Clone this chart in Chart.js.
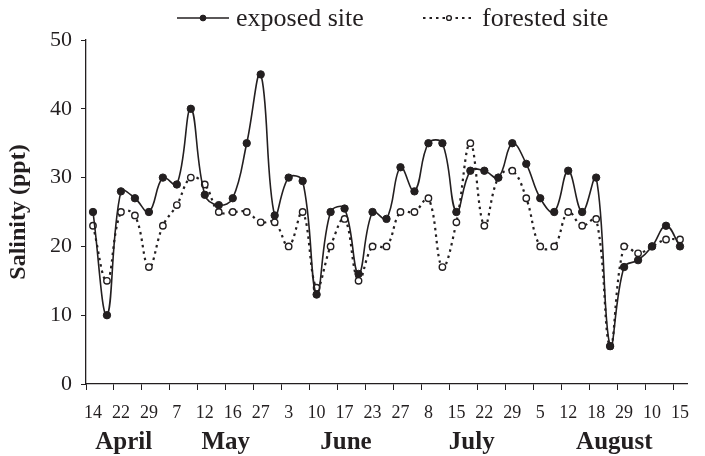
<!DOCTYPE html>
<html>
<head>
<meta charset="utf-8">
<script src="https://cdn.jsdelivr.net/npm/chart.js@4.4.1/dist/chart.umd.min.js"></script>
<style>
  html, body { margin: 0; padding: 0; background: #fff; }
</style>
</head>
<body>
<canvas id="salinity-chart" width="705" height="456"></canvas>
<script>
// Define the data
var dayTicks = ["14", "22", "29", "7", "12", "16", "27", "3", "10", "17", "23",
                "27", "8", "15", "22", "29", "5", "12", "18", "29", "10", "15"]; // every other sample
var monthNames = ["April", "May", "June", "July", "August"];
var monthCenters = [2.2, 9.5, 18.1, 27.1, 37.3]; // where the month name sits, in sample units

var exposedSite = [25, 10, 28, 27, 25, 30, 29, 40, 27.5, 26,
                   27, 35, 45, 24.5, 30, 29.5, 13, 25, 25.5, 16,
                   25, 24, 31.5, 28, 35, 35, 25, 31, 31, 30,
                   35, 32, 27, 25, 31, 25, 30, 5.5, 17, 18,
                   20, 23, 20];
var forestedSite = [23, 15, 25, 24.5, 17, 23, 26, 30, 29, 25,
                    25, 25, 23.5, 23.5, 20, 25, 14, 20, 24, 15,
                    20, 20, 25, 25, 27, 17, 23.5, 35, 23, 30,
                    31, 27, 20, 20, 25, 23, 24, 5.5, 20, 19,
                    20, 21, 21];
// End Defining data

var labels = exposedSite.map(function (v, i) { return i % 2 ? "" : dayTicks[i / 2]; });

var ink = "#231f20";
var serif = "'Liberation Serif', 'Times New Roman', serif";

// month names under the day ticks
var monthPlugin = {
  id: "months",
  afterDraw: function (chart) {
    var ctx = chart.ctx, x = chart.scales.x;
    ctx.save();
    ctx.fillStyle = ink;
    ctx.font = "bold 25px " + serif;
    ctx.textAlign = "center";
    ctx.textBaseline = "alphabetic";
    monthNames.forEach(function (m, i) {
      ctx.fillText(m, x.getPixelForValue(monthCenters[i]), 449);
    });
    ctx.restore();
  }
};

// legend with a line sample and marker, like the original
var legendX = [177, 423];
var legendPlugin = {
  id: "lineLegend",
  afterDraw: function (chart) {
    var ctx = chart.ctx;
    var y = 18;
    ctx.save();
    ctx.font = "26px " + serif;
    ctx.textBaseline = "middle";
    chart.data.datasets.forEach(function (ds, i) {
      var x = legendX[i];
      ctx.strokeStyle = ds.borderColor;
      ctx.lineWidth = ds.borderWidth;
      ctx.setLineDash(ds.borderDash || []);
      ctx.beginPath();
      ctx.moveTo(x, y);
      ctx.lineTo(x + 52, y);
      ctx.stroke();
      ctx.setLineDash([]);
      ctx.beginPath();
      ctx.arc(x + 26, y, ds.pointRadius - 0.8, 0, Math.PI * 2);
      ctx.fillStyle = ds.pointBackgroundColor;
      ctx.fill();
      ctx.lineWidth = ds.pointBorderWidth;
      ctx.strokeStyle = ds.pointBorderColor;
      ctx.stroke();
      ctx.fillStyle = ink;
      ctx.fillText(ds.label, x + 59, y + 1);
    });
    ctx.restore();
  }
};

var ctx = document.getElementById("salinity-chart").getContext("2d");
var myChart = new Chart(ctx, {
  type: "line",
  data: {
    labels: labels,
    datasets: [
      {
        label: "exposed site",
        data: exposedSite,
        borderColor: ink,
        borderWidth: 1.6,
        pointRadius: 3.7,
        pointBackgroundColor: ink,
        pointBorderColor: ink,
        pointBorderWidth: 1,
        tension: 0.4,
        fill: false
      },
      {
        label: "forested site",
        data: forestedSite,
        borderColor: ink,
        borderWidth: 2.2,
        borderDash: [2.5, 4],
        pointRadius: 3.2,
        pointBackgroundColor: "#ffffff",
        pointBorderColor: ink,
        pointBorderWidth: 1.4,
        tension: 0.4,
        fill: false
      }
    ]
  },
  options: {
    responsive: false,
    animation: false,
    layout: { padding: { top: 40, right: 18, left: 0, bottom: 0 } },
    plugins: {
      legend: { display: false },
      tooltip: { enabled: false }
    },
    scales: {
      x: {
        offset: true,
        afterFit: function (s) { s.height = 72; },
        grid: {
          offset: true,
          drawOnChartArea: false,
          tickLength: 6,
          color: function (c) { return c.index % 2 === 0 ? ink : "rgba(0,0,0,0)"; }
        },
        border: { color: ink, width: 1.3 },
        ticks: {
          autoSkip: false,
          maxRotation: 0,
          padding: 12,
          color: ink,
          font: { family: serif, size: 18 }
        }
      },
      y: {
        min: 0,
        max: 50,
        afterFit: function (s) { s.width = 86; },
        grid: { drawOnChartArea: false, tickLength: 5, color: ink },
        border: { color: ink, width: 1.3 },
        ticks: {
          stepSize: 10,
          padding: 9,
          color: ink,
          font: { family: serif, size: 22 }
        },
        title: {
          display: true,
          text: "Salinity (ppt)",
          color: ink,
          padding: { top: 4, bottom: 0 },
          font: { family: serif, size: 24, weight: "bold" }
        }
      }
    }
  },
  plugins: [monthPlugin, legendPlugin]
});
</script>
</body>
</html>
